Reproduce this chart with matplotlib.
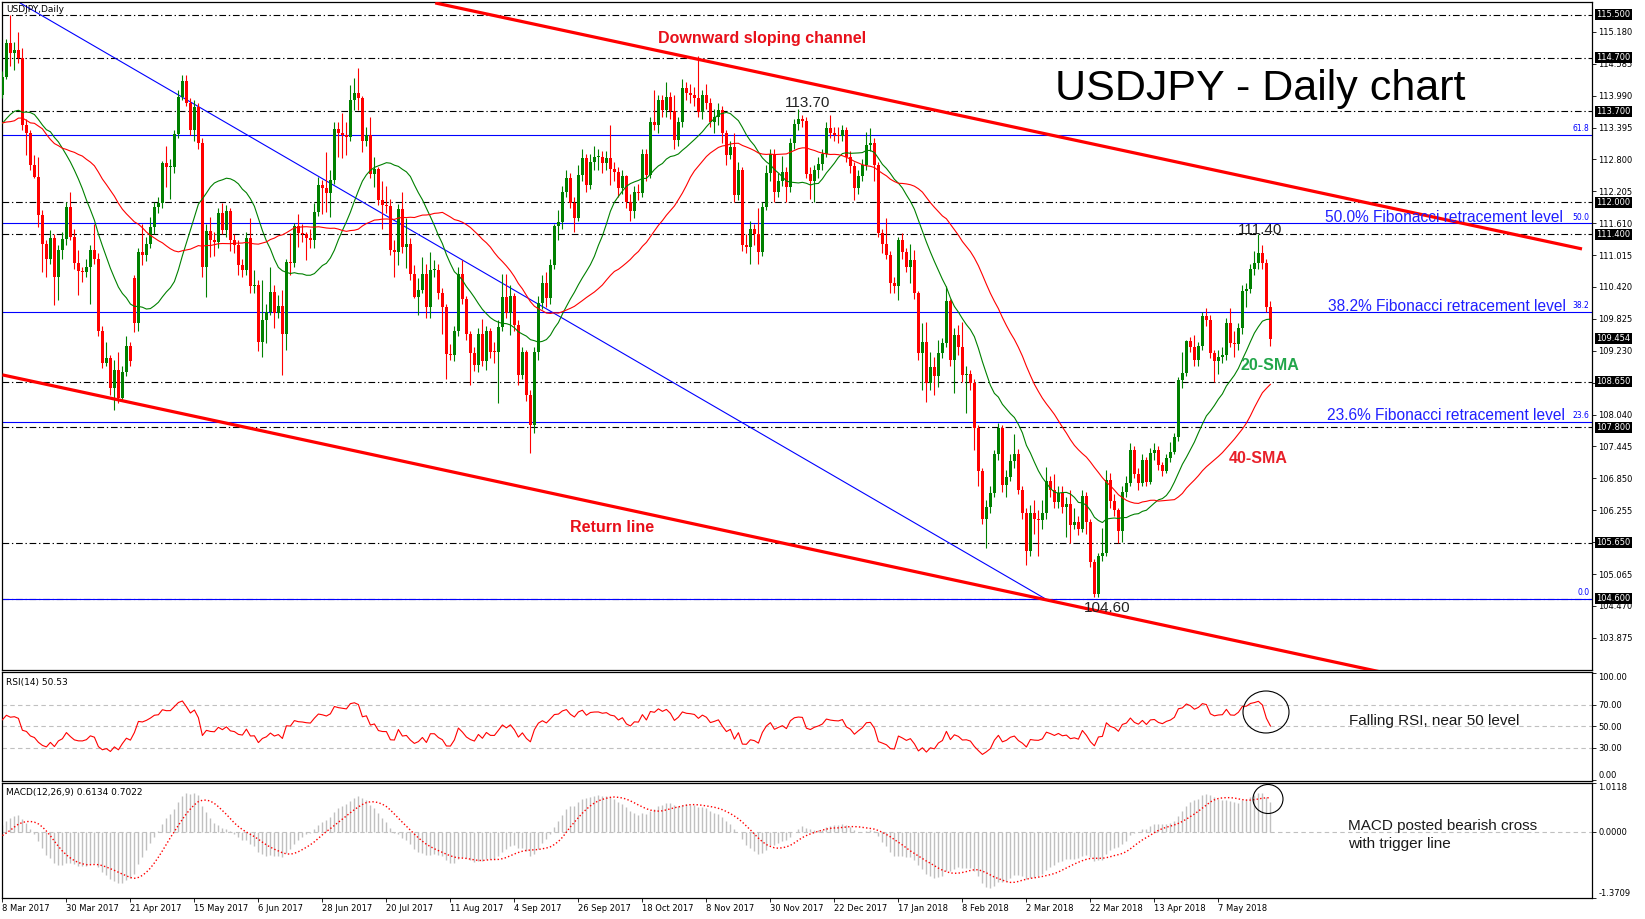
import numpy as np
import pandas as pd
import matplotlib
matplotlib.use("Agg")
import matplotlib.pyplot as plt
from matplotlib.patches import Ellipse
import matplotlib.transforms as mtransforms

# ---------------- data ----------------
# closes of the 40 sessions before the first visible bar (indicator warm-up only)
warmup_close = [114.4, 114.3, 114.5, 114.2, 112.7, 113.4, 115.0, 114.6, 112.8, 113.8,
                113.3, 115.1, 115.1, 113.7, 112.7, 113.2, 112.8, 112.6, 111.8, 112.3,
                111.9, 113.2, 113.2, 113.7, 114.3, 114.2, 113.2, 112.9, 113.2, 113.6,
                113.3, 112.7, 112.1, 112.7, 112.8, 113.7, 114.4, 114.0, 113.9, 114.0]

close = [
    114.34, 114.97, 114.78, 114.85, 114.70, 113.44, 113.29, 112.70, 112.48, 111.76,
    111.23, 110.95, 111.33, 110.61, 111.11, 111.31, 111.91, 111.36, 110.86, 110.71,
    110.70, 110.80, 111.11, 110.95, 109.59, 109.00, 109.09, 108.53, 108.88, 108.34,
    108.84, 109.31, 109.03, 109.74, 111.08, 111.02, 111.23, 111.53, 111.92, 111.99,
    112.73, 112.65, 112.66, 113.27, 113.97, 114.27, 113.85, 113.34, 113.78, 113.10,
    110.80, 111.47, 111.30, 111.25, 111.80, 111.48, 111.83, 111.30, 111.20, 110.83,
    110.74, 111.33, 110.43, 110.45, 109.40, 109.80, 109.96, 110.33, 109.93, 110.07,
    109.55, 110.89, 110.86, 111.55, 111.43, 111.40, 111.33, 111.30, 111.82, 112.32,
    112.26, 112.17, 112.41, 113.37, 113.29, 113.25, 113.21, 113.91, 114.04, 113.94,
    113.15, 113.25, 112.53, 112.63, 112.04, 111.95, 111.94, 111.11, 111.08, 111.87,
    111.17, 111.22, 110.67, 110.23, 110.36, 110.66, 110.04, 110.74, 110.74, 110.31,
    110.04, 109.17, 109.15, 109.60, 110.66, 110.19, 109.55, 109.18, 108.96, 109.55,
    109.03, 109.59, 109.21, 109.20, 109.68, 110.24, 109.93, 110.25, 109.71, 108.78,
    109.20, 108.40, 107.85, 109.20, 110.12, 110.49, 110.21, 110.83, 111.56, 111.64,
    112.20, 112.45, 111.98, 111.70, 112.51, 112.82, 112.32, 112.76, 112.84, 112.85,
    112.74, 112.82, 112.63, 112.57, 112.26, 112.49, 112.01, 111.83, 112.20, 112.18,
    112.91, 112.51, 113.50, 113.44, 113.90, 113.72, 113.97, 113.70, 113.16, 113.50,
    114.13, 114.03, 114.00, 113.95, 113.69, 114.00, 113.86, 113.50, 113.60, 113.72,
    113.29, 112.88, 113.03, 112.14, 112.60, 111.20, 111.17, 111.51, 111.40, 111.08,
    111.92, 112.54, 112.90, 112.20, 112.40, 112.57, 112.28, 113.10, 113.46, 113.55,
    113.52, 112.53, 112.39, 112.60, 112.72, 112.90, 113.38, 113.30, 113.26, 113.24,
    113.35, 112.85, 112.67, 112.26, 112.49, 112.70, 113.07, 113.10, 112.70, 111.42,
    111.23, 111.02, 110.49, 110.43, 111.30, 111.08, 110.80, 110.92, 110.30, 109.18,
    109.40, 108.62, 108.93, 108.75, 109.18, 109.37, 110.15, 109.06, 109.52, 109.30,
    108.78, 108.80, 108.62, 107.78, 106.98, 106.10, 106.31, 106.57, 107.30, 107.78,
    106.73, 106.88, 107.18, 107.30, 106.63, 106.20, 105.50, 106.20, 106.10, 106.07,
    106.20, 106.80, 106.63, 106.41, 106.58, 106.32, 106.37, 105.98, 106.04, 105.90,
    106.52, 106.04, 105.29, 104.70, 105.40, 105.45, 106.82, 106.42, 106.26, 105.86,
    106.60, 106.76, 107.38, 106.94, 106.76, 107.19, 106.79, 107.32, 107.37, 107.10,
    106.99, 107.22, 107.35, 107.63, 108.68, 108.81, 109.42, 109.30, 109.06, 109.31,
    109.87, 109.81, 109.18, 109.03, 109.12, 109.15, 109.74, 109.37, 109.35, 109.65,
    110.35, 110.39, 110.75, 110.87, 111.05, 110.86, 110.05, 109.454]

high = [
    114.45, 115.05, 115.50, 115.00, 115.18, 114.88, 113.55, 113.35, 112.88, 112.85,
    111.85, 111.30, 111.48, 111.40, 111.20, 111.45, 112.00, 112.20, 111.50, 111.11,
    110.80, 110.95, 111.20, 111.60, 111.05, 109.70, 109.40, 109.15, 109.06, 109.20,
    108.95, 109.50, 109.40, 110.64, 111.15, 111.60, 111.35, 111.73, 112.00, 112.10,
    112.77, 113.05, 112.80, 113.35, 114.10, 114.37, 114.37, 113.95, 113.90, 113.85,
    113.20, 111.60, 111.73, 111.45, 111.90, 111.98, 111.95, 111.90, 111.40, 111.30,
    110.95, 111.45, 111.70, 110.74, 110.55, 110.55, 110.11, 110.80, 110.46, 110.27,
    110.36, 110.95, 111.42, 111.61, 111.79, 111.60, 111.45, 111.50, 111.98, 112.48,
    112.42, 112.94, 112.60, 113.49, 113.49, 113.67, 113.50, 114.19, 114.32, 114.50,
    113.98, 113.40, 113.60, 112.85, 112.66, 112.40, 112.30, 112.07, 111.30, 111.97,
    112.20, 111.70, 111.33, 110.83, 110.58, 110.98, 110.85, 111.08, 110.92, 110.85,
    110.40, 110.10, 109.35, 109.70, 110.80, 110.93, 110.25, 109.60, 109.30, 109.65,
    109.82, 109.70, 109.65, 109.40, 109.80, 110.66, 110.66, 110.46, 110.30, 109.80,
    109.30, 109.25, 108.50, 109.30, 110.25, 110.65, 110.70, 110.95, 111.60, 111.85,
    112.30, 112.60, 112.55, 112.10, 112.70, 113.00, 112.90, 112.90, 113.05, 113.00,
    112.95, 112.95, 113.44, 112.75, 112.65, 112.60, 112.50, 112.15, 112.30, 112.35,
    113.00, 113.00, 113.60, 114.10, 114.00, 114.00, 114.25, 114.05, 114.00, 113.60,
    114.30, 114.25, 114.20, 114.15, 114.73, 114.10, 114.20, 113.95, 113.75, 113.85,
    113.80, 113.35, 113.15, 113.30, 112.75, 112.65, 111.40, 111.65, 111.60, 111.90,
    112.00, 112.70, 113.00, 113.00, 112.55, 112.86, 112.65, 113.20, 113.55, 113.75,
    113.63, 113.60, 112.65, 112.70, 112.85, 113.00, 113.50, 113.63, 113.40, 113.40,
    113.45, 113.40, 112.95, 112.75, 112.60, 112.80, 113.32, 113.38, 113.20, 112.75,
    111.50, 111.70, 111.10, 110.60, 111.36, 111.42, 111.15, 111.22, 111.11, 110.35,
    109.74, 109.77, 109.20, 109.12, 109.43, 109.46, 110.43, 110.20, 109.65, 109.71,
    109.77, 108.95, 108.88, 108.70, 107.85, 107.05, 106.45, 106.70, 107.38, 107.89,
    107.85, 107.00, 107.30, 107.68, 107.40, 106.70, 106.30, 106.35, 106.45, 106.25,
    106.45, 107.07, 106.90, 106.94, 106.70, 106.70, 106.50, 106.63, 106.29, 106.15,
    106.63, 106.60, 106.10, 105.35, 105.46, 105.92, 107.00, 106.95, 106.55, 106.30,
    106.70, 106.90, 107.50, 107.45, 107.05, 107.30, 107.25, 107.41, 107.50, 107.45,
    107.15, 107.30, 107.52, 107.70, 108.74, 109.21, 109.44, 109.49, 109.52, 109.40,
    109.95, 110.02, 109.90, 109.25, 109.25, 109.30, 109.85, 110.02, 109.60, 109.75,
    110.46, 110.50, 110.85, 111.10, 111.40, 111.20, 110.95, 110.15]

low = [
    113.95, 114.30, 114.55, 114.47, 114.60, 113.35, 112.88, 112.60, 112.45, 111.54,
    110.70, 110.61, 110.85, 110.08, 110.18, 110.95, 111.20, 111.30, 110.75, 110.27,
    110.52, 110.60, 110.11, 110.85, 109.50, 108.90, 108.95, 108.40, 108.12, 108.25,
    108.30, 108.75, 108.95, 109.58, 109.60, 110.83, 110.90, 111.15, 111.40, 111.80,
    111.90, 112.29, 112.07, 112.55, 113.20, 113.90, 113.80, 113.25, 113.15, 113.00,
    110.60, 110.24, 110.98, 111.00, 111.15, 111.40, 111.35, 111.10, 111.05, 110.64,
    110.60, 110.65, 110.30, 110.30, 109.22, 109.12, 109.37, 109.90, 109.65, 109.85,
    108.78, 109.24, 110.64, 110.80, 111.17, 111.25, 110.92, 111.15, 111.15, 111.75,
    111.79, 111.82, 111.73, 112.35, 112.85, 112.82, 112.88, 113.15, 113.72, 113.72,
    112.94, 113.05, 112.45, 112.29, 111.95, 111.51, 111.80, 111.02, 110.61, 110.83,
    111.05, 110.77, 110.55, 110.21, 109.90, 110.30, 109.85, 109.84, 110.60, 110.20,
    109.55, 108.70, 109.05, 109.03, 109.50, 110.10, 109.43, 108.59, 108.85, 108.84,
    108.95, 108.87, 109.10, 109.00, 108.25, 109.60, 109.85, 109.52, 109.60, 108.60,
    108.70, 108.30, 107.32, 107.70, 109.05, 110.00, 110.05, 110.10, 110.75, 111.30,
    111.50, 112.10, 111.90, 111.45, 111.65, 112.40, 112.20, 112.25, 112.60, 112.60,
    112.55, 112.60, 112.32, 112.40, 112.10, 112.15, 111.90, 111.65, 111.70, 112.05,
    112.10, 112.40, 112.45, 113.35, 113.30, 113.60, 113.60, 113.55, 113.00, 113.05,
    113.40, 113.90, 113.85, 113.80, 113.60, 113.55, 113.75, 113.40, 113.30, 113.45,
    113.10, 112.70, 112.80, 112.00, 112.05, 111.10, 111.05, 110.85, 111.20, 110.84,
    111.00, 111.85, 112.40, 112.00, 112.10, 112.30, 112.00, 112.20, 113.00, 113.35,
    113.40, 112.45, 112.07, 112.01, 112.45, 112.60, 112.85, 113.20, 113.15, 113.10,
    113.15, 112.75, 112.55, 112.04, 112.15, 112.40, 112.60, 112.95, 112.39, 111.35,
    111.05, 110.95, 110.30, 110.30, 110.18, 110.95, 110.70, 110.50, 110.20, 109.05,
    108.50, 108.28, 108.50, 108.40, 108.56, 109.10, 109.30, 108.95, 108.44, 109.15,
    108.65, 108.06, 108.50, 107.38, 106.70, 106.00, 105.55, 106.20, 106.50, 107.20,
    106.60, 106.50, 106.80, 107.05, 106.55, 106.10, 105.23, 105.40, 105.82, 105.41,
    105.90, 106.10, 106.50, 106.30, 106.30, 106.20, 105.76, 105.64, 105.90, 105.80,
    105.85, 105.82, 105.20, 104.63, 104.64, 105.30, 105.40, 106.30, 106.15, 105.64,
    105.67, 106.50, 106.70, 106.85, 106.63, 106.70, 106.70, 106.75, 107.20, 107.00,
    106.90, 106.95, 107.15, 107.30, 107.55, 108.53, 108.75, 109.20, 108.95, 108.95,
    109.25, 109.70, 109.10, 108.65, 108.80, 109.00, 109.05, 109.30, 109.12, 109.25,
    109.55, 110.05, 110.30, 110.65, 110.75, 110.75, 109.95, 109.31]

# opening prices that differ from the previous close (weekend gaps)
gap_opens = {0: 114.00, 33: 110.58}

date_labels = ["8 Mar 2017", "30 Mar 2017", "21 Apr 2017", "15 May 2017", "6 Jun 2017",
               "28 Jun 2017", "20 Jul 2017", "11 Aug 2017", "4 Sep 2017", "26 Sep 2017",
               "18 Oct 2017", "8 Nov 2017", "30 Nov 2017", "22 Dec 2017", "17 Jan 2018",
               "8 Feb 2018", "2 Mar 2018", "22 Mar 2018", "13 Apr 2018", "7 May 2018"]
date_step = 16

price_ticks = [115.180, 114.585, 113.990, 113.395, 112.800, 112.205, 111.610, 111.015,
               110.420, 109.825, 109.230, 108.635, 108.040, 107.445, 106.850, 106.255,
               105.660, 105.065, 104.470, 103.875]
sr_levels = [115.500, 114.700, 113.700, 112.000, 111.400, 108.650, 107.800, 105.650, 104.600]
last_price = 109.454

fib_low, fib_high = 104.60, 118.62
fib_ratios = [0.0, 0.236, 0.382, 0.5, 0.618]

# trendlines (bar index, price)
channel_x, channel_y = [108.2, 394.9], [115.72, 111.13]
return_x, return_y = [0.0, 350.0], [108.78, 103.15]
diag_x, diag_y = [4.4, 261.7], [115.72, 104.56]

rsi_ticks = [100, 70, 50, 30, 0]
macd_top, macd_bottom = 1.0118, -1.3709

# ---------------- prep ----------------
n = min(len(close), len(high), len(low))
c = np.array(close[:n], dtype=float)
o = np.array([gap_opens.get(i, close[i - 1] if i > 0 else close[0]) for i in range(n)])
h = np.maximum(np.array(high[:n]), np.maximum(o, c))
l = np.minimum(np.array(low[:n]), np.minimum(o, c))
x = np.arange(n)

full = pd.Series(warmup_close + list(c))
sma20 = full.rolling(20, min_periods=1).mean().values[-n:]
sma40 = full.rolling(40, min_periods=1).mean().values[-n:]
delta = full.diff()
ag = delta.clip(lower=0).ewm(alpha=1 / 14, adjust=False).mean()
al = (-delta.clip(upper=0)).ewm(alpha=1 / 14, adjust=False).mean()
rsi = (100 - 100 / (1 + ag / al)).values[-n:]
macd = (full.ewm(span=12, adjust=False).mean() - full.ewm(span=26, adjust=False).mean())
signal = macd.rolling(9).mean().values[-n:]
macd = macd.values[-n:]

# ---------------- figure ----------------
W, H, DPI = 1645, 919, 100
fig = plt.figure(figsize=(W / DPI, H / DPI), dpi=DPI)
fig.patch.set_facecolor("white")

def fx(px):
    return px / W

def fy(py):
    return 1 - py / H

LPX, RPX = 2, 1592
ax = fig.add_axes([fx(LPX), fy(670), (RPX - LPX) / W, (670 - 2) / H])
axr = fig.add_axes([fx(LPX), fy(781), (RPX - LPX) / W, (781 - 672) / H])
axm = fig.add_axes([fx(LPX), fy(898), (RPX - LPX) / W, (898 - 783) / H])

XMIN, XMAX = -0.1, 397.4
GREEN, RED, BLUE = "#008000", "#ff0000", "#0000ff"
TICKFONT = dict(family="DejaVu Sans", size=6)

for a in (ax, axr, axm):
    a.set_xlim(XMIN, XMAX)
    for s in a.spines.values():
        s.set_color("black")
        s.set_linewidth(0.9)
    a.yaxis.tick_right()
    a.tick_params(axis="y", which="both", left=False, right=True, labelleft=False,
                  labelright=True, length=3, width=0.6, pad=1.5, labelsize=6)
    a.tick_params(axis="x", bottom=False, labelbottom=False)
    a.set_facecolor("white")

# --- main price panel
ax.set_ylim(103.274, 115.737)
dash = (0, (6, 2.5, 1.2, 2.5))
for lv in sr_levels:
    ax.axhline(lv, color="black", lw=0.8, ls=dash, zorder=2)
for r in fib_ratios:
    lv = fib_low + r * (fib_high - fib_low)
    ax.axhline(lv, color=BLUE, lw=0.8, zorder=2)
    ax.text(1 - 0.0015, lv + 0.03, f"{r*100:.1f}", transform=mtransforms.blended_transform_factory(ax.transAxes, ax.transData),
            ha="right", va="bottom", color=BLUE, fontsize=5.5, family="DejaVu Sans", zorder=6)

ax.plot(diag_x, diag_y, color=BLUE, lw=0.8, zorder=2)
ax.plot(channel_x, channel_y, color=RED, lw=2.3, zorder=6, solid_capstyle="butt")
ax.plot(return_x, return_y, color=RED, lw=2.3, zorder=6, solid_capstyle="butt")

col = np.where(c >= o, GREEN, RED)
ax.vlines(x, l, h, colors=col, linewidth=0.8, zorder=3)
body = np.maximum(np.abs(c - o), 0.018)
ax.bar(x, body, bottom=np.minimum(o, c), width=0.72, color=col, linewidth=0, zorder=4)
ax.plot(x, sma20, color=GREEN, lw=0.8, zorder=5)
ax.plot(x, sma40, color=RED, lw=0.8, zorder=5)

ax.set_yticks(price_ticks)
ax.set_yticklabels([f"{v:.3f}" for v in price_ticks], **TICKFONT)
tr = mtransforms.blended_transform_factory(ax.transAxes, ax.transData)
for lv in sr_levels + [last_price]:
    ax.text(1.0028, lv, f"{lv:.3f}", transform=tr, ha="left", va="center", color="white",
            fontsize=6, family="DejaVu Sans", clip_on=False, zorder=10,
            bbox=dict(boxstyle="square,pad=0.12", fc="black", ec="none"))

# --- RSI panel
axr.set_ylim(-0.9, 100.6)
for lv in (70, 50, 30):
    axr.axhline(lv, color="#c0c0c0", lw=0.8, ls=(0, (4, 3)), zorder=1)
axr.plot(x, rsi, color=RED, lw=0.8, zorder=3)
axr.set_yticks(rsi_ticks)
axr.set_yticklabels([f"{v:.2f}" for v in rsi_ticks], **TICKFONT)
lbls = axr.get_yticklabels()
lbls[0].set_va("top")
lbls[-1].set_va("bottom")

# --- MACD panel
axm.set_ylim(macd_bottom, macd_top)
axm.axhline(0, color="#c0c0c0", lw=0.8, ls=(0, (4, 3)), zorder=1)
axm.vlines(x, 0, macd, colors="#c0c0c0", linewidth=1.0, zorder=2)
axm.plot(x, signal, color=RED, lw=1.0, ls=(0, (1, 1.6)), zorder=3)
mt = [macd_top, 0.0, macd_bottom]
axm.set_yticks(mt)
axm.set_yticklabels([f"{v:.4f}" for v in mt], **TICKFONT)
ml = axm.get_yticklabels()
ml[0].set_va("top")
ml[-1].set_va("bottom")

pos = [i * date_step for i in range(len(date_labels))]
axm.set_xticks(pos)
axm.set_xticklabels(date_labels, **TICKFONT)
axm.tick_params(axis="x", bottom=True, labelbottom=True, length=3, width=0.6, pad=1.5)
for t in axm.get_xticklabels():
    t.set_ha("left")

# ---------------- annotations ----------------
SANS = "Liberation Sans"
def ftext(px, py, s, **kw):
    kw.setdefault("family", SANS)
    fig.text(fx(px), fy(py), s, **kw)

ftext(6, 10, "USDJPY,Daily", fontsize=6.5, family="DejaVu Sans", va="center", ha="left")
ftext(6, 682, "RSI(14) 50.53", fontsize=6.5, family="DejaVu Sans", va="center", ha="left")
ftext(6, 793, "MACD(12,26,9) 0.6134 0.7022", fontsize=6.5, family="DejaVu Sans", va="center", ha="left")

ftext(1260, 89, "USDJPY - Daily chart", fontsize=31, ha="center", va="center", color="black")
ftext(762, 39, "Downward sloping channel", fontsize=11.5, weight="bold", ha="center", va="center", color="#e8101a")
ftext(612, 528, "Return line", fontsize=11.5, weight="bold", ha="center", va="center", color="#e8101a")
ftext(1270, 366, "20-SMA", fontsize=11.5, weight="bold", ha="center", va="center", color="#22a64a")
ftext(1258, 458, "40-SMA", fontsize=11.5, weight="bold", ha="center", va="center", color="#e8202a")
ftext(808, 103, "113.70", fontsize=11, ha="center", va="center", color="#222222")
ftext(1260, 230, "111.40", fontsize=11, ha="center", va="center", color="#222222")
ftext(1107, 608, "104.60", fontsize=11, ha="center", va="center", color="#222222")

FIBC = "#2020ff"
ftext(1563, 217, "50.0% Fibonacci retracement level", fontsize=11.2, ha="right", va="center", color=FIBC)
ftext(1566, 306, "38.2% Fibonacci retracement level", fontsize=11.2, ha="right", va="center", color=FIBC)
ftext(1565, 415, "23.6% Fibonacci retracement level", fontsize=11.2, ha="right", va="center", color=FIBC)

ftext(1349, 721, "Falling RSI, near 50 level", fontsize=11, ha="left", va="center", color="#1a1a1a")
ftext(1348, 826, "MACD posted bearish cross", fontsize=11, ha="left", va="center", color="#1a1a1a")
ftext(1348, 844, "with trigger line", fontsize=11, ha="left", va="center", color="#1a1a1a")

for cx, cy, w, hh in [(1266, 712, 46, 42), (1268, 799, 30, 29)]:
    e = Ellipse((fx(cx), fy(cy)), w / W, hh / H, transform=fig.transFigure,
                fill=False, ec="black", lw=0.8)
    fig.add_artist(e)

fig.savefig("out.png", dpi=DPI, facecolor="white")
